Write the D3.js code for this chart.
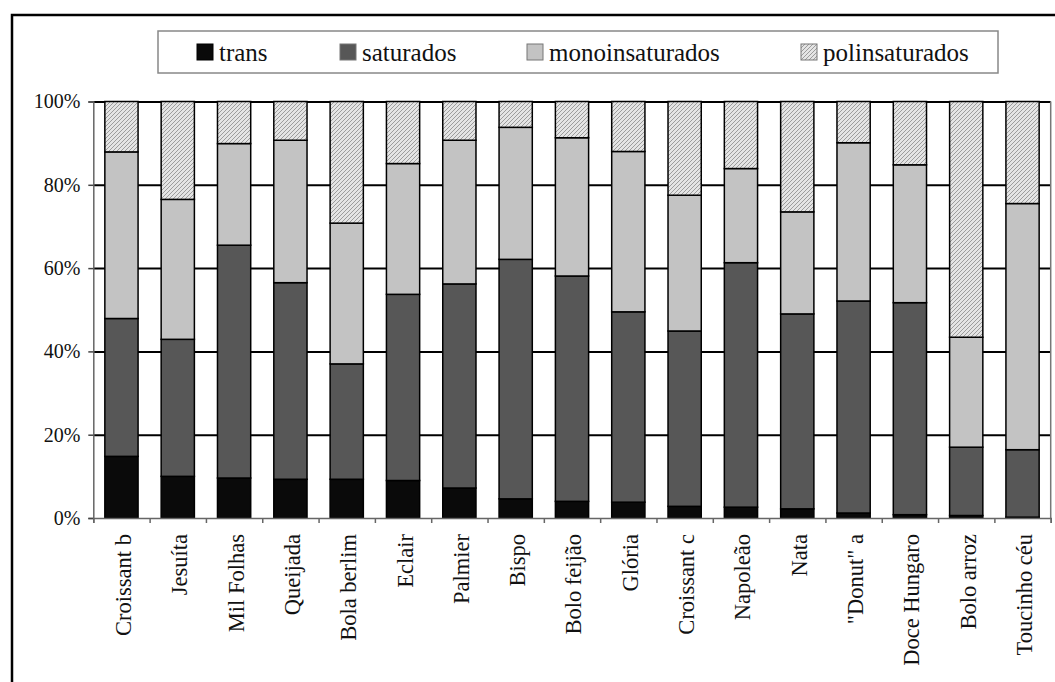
<!DOCTYPE html>
<html lang="pt">
    <head>
        <meta charset="utf-8">
        <title>Ácidos gordos - bolos</title>
        <script type="text/javascript" src="https://d3js.org/d3.v7.min.js"></script>
        <style type="text/css">
            body { margin: 0; background: #fff; }
            text { font-family: "Liberation Serif", "Times New Roman", serif; fill: #111; }
        </style>
    </head>
    <body>
        <script type="text/javascript">

            // Categorias (eixo X)
            var categorias = ["Croissant b", "Jesuíta", "Mil Folhas", "Queijada", "Bola berlim",
                "Eclair", "Palmier", "Bispo", "Bolo feijão", "Glória", "Croissant c",
                "Napoleão", "Nata", "\"Donut\" a", "Doce Hungaro", "Bolo arroz", "Toucinho céu"];

            // Series (% do total)
            var trans          = [14.8, 10.0, 9.6, 9.3, 9.3, 9.0, 7.2, 4.6, 4.0, 3.8, 2.8, 2.6, 2.2, 1.2, 0.8, 0.6, 0.2];
            var saturados      = [33.1, 32.9, 55.9, 47.2, 27.7, 44.7, 49.0, 57.5, 54.1, 45.7, 42.1, 58.7, 46.8, 50.9, 50.9, 16.4, 16.2];
            var monoinsaturados = [40.0, 33.6, 24.4, 34.2, 33.8, 31.4, 34.5, 31.7, 33.2, 38.5, 32.6, 22.6, 24.5, 38.0, 33.1, 26.4, 59.1];
            var polinsaturados = [12.1, 23.5, 10.1, 9.3, 29.2, 14.9, 9.3, 6.2, 8.7, 12.0, 22.5, 16.1, 26.5, 9.9, 15.2, 56.6, 24.5];

            var series = ["trans", "saturados", "monoinsaturados", "polinsaturados"];
            var yTicks = [0, 20, 40, 60, 80, 100];

            // Tabela para o d3.stack
            var dados = categorias.map(function(c, i) {
                return {
                    cat: c,
                    trans: trans[i],
                    saturados: saturados[i],
                    monoinsaturados: monoinsaturados[i],
                    polinsaturados: polinsaturados[i]
                };
            });

            var w = 1055;
            var h = 682;
            // Limites da area do grafico (nao usar "top": e global do browser)
            var plotL = 93.3, plotR = 1050.7, plotT = 101.5, plotB = 518;

            var svg = d3.select("body")
                        .append("svg")
                        .attr("width", w)
                        .attr("height", h);

            // Trama das barras polinsaturados
            var defs = svg.append("defs");
            var pat = defs.append("pattern")
                .attr("id", "hatch")
                .attr("patternUnits", "userSpaceOnUse")
                .attr("width", 4)
                .attr("height", 4);
            pat.append("rect").attr("width", 4).attr("height", 4).attr("fill", "#e4e4e4");
            pat.append("path")
                .attr("d", "M-1,1 l2,-2 M0,4 l4,-4 M3,5 l2,-2")
                .attr("stroke", "#9c9c9c")
                .attr("stroke-width", 1);

            var cores = {
                trans: "#0a0a0a",
                saturados: "#575757",
                monoinsaturados: "#c3c3c3",
                polinsaturados: "url(#hatch)"
            };

            // Moldura exterior
            svg.append("rect")
                .attr("x", 12).attr("y", 15)
                .attr("width", 1060).attr("height", 700)
                .attr("fill", "none")
                .attr("stroke", "#000")
                .attr("stroke-width", 2.5);

            // Escalas
            var xScale = d3.scaleBand()
                .domain(categorias)
                .range([plotL, plotR])
                .paddingInner(0.41)
                .paddingOuter(0.205);

            var xEdge = d3.scaleLinear()
                .domain([0, categorias.length])
                .range([plotL, plotR]);

            var yScale = d3.scaleLinear()
                .domain([0, 100])
                .range([plotB, plotT]);

            // Linhas de grelha
            svg.append("g")
                .attr("class", "grid")
                .attr("transform", "translate(" + plotL + ",0)")
                .call(d3.axisLeft(yScale).tickValues(yTicks.slice(1)).tickSize(-(plotR - plotL)).tickFormat(""))
                .call(function(g) {
                    g.select(".domain").remove();
                    g.selectAll("line").attr("stroke", "#000").attr("stroke-width", 2);
                });

            // Borda direita da area
            svg.append("line")
                .attr("x1", plotR).attr("x2", plotR)
                .attr("y1", plotT).attr("y2", plotB)
                .attr("stroke", "#777")
                .attr("stroke-width", 1.5);

            // Barras empilhadas
            var stack = d3.stack().keys(series);
            var camadas = stack(dados);

            svg.selectAll("g.layer")
                .data(camadas)
                .enter()
                .append("g")
                .attr("class", "layer")
                .attr("fill", function(d) { return cores[d.key]; })
                .selectAll("rect")
                .data(function(d) { return d; })
                .enter()
                .append("rect")
                .attr("x", function(d) { return xScale(d.data.cat); })
                .attr("y", function(d) { return yScale(d[1]); })
                .attr("width", xScale.bandwidth())
                .attr("height", function(d) { return yScale(d[0]) - yScale(d[1]); })
                .attr("stroke", "#000")
                .attr("stroke-width", 1.5);

            // Eixo Y
            svg.append("g")
                .attr("class", "y axis")
                .attr("transform", "translate(" + plotL + ",0)")
                .call(d3.axisLeft(yScale).tickValues(yTicks).tickSize(5).tickPadding(8)
                    .tickFormat(function(d) { return d + "%"; }))
                .call(function(g) {
                    g.select(".domain").attr("stroke", "#666").attr("stroke-width", 1.5);
                    g.selectAll("line").attr("stroke", "#444").attr("stroke-width", 1.5);
                    g.selectAll("text").attr("font-size", "20px").attr("fill", "#111")
                        .attr("font-family", "Liberation Serif, Times New Roman, serif");
                });

            // Eixo X: marcas nos limites das categorias
            svg.append("g")
                .attr("class", "x axis")
                .attr("transform", "translate(0," + plotB + ")")
                .call(d3.axisBottom(xEdge).tickValues(d3.range(categorias.length + 1)).tickSize(5).tickFormat(""))
                .call(function(g) {
                    g.select(".domain").attr("stroke", "#666").attr("stroke-width", 1.5);
                    g.selectAll("line").attr("stroke", "#666").attr("stroke-width", 1.5);
                });

            // Etiquetas X rodadas
            svg.append("g")
                .attr("class", "x labels")
                .attr("transform", "translate(0," + plotB + ")")
                .call(d3.axisBottom(xScale).tickSize(0).tickPadding(0))
                .call(function(g) {
                    g.select(".domain").remove();
                    g.selectAll("text")
                        .attr("transform", "rotate(-90)")
                        .attr("text-anchor", "end")
                        .attr("x", -16)
                        .attr("y", 0)
                        .attr("dy", "0.42em")
                        .attr("font-size", "22.5px")
                        .attr("fill", "#111")
                        .attr("font-family", "Liberation Serif, Times New Roman, serif");
                });

            // Legenda
            var leg = svg.append("g").attr("class", "legend");
            leg.append("rect")
                .attr("x", 158).attr("y", 31)
                .attr("width", 840).attr("height", 42)
                .attr("fill", "#fff")
                .attr("stroke", "#888")
                .attr("stroke-width", 1.5);

            var legX = [197, 340, 527, 801];
            var item = leg.selectAll("g.item")
                .data(series)
                .enter()
                .append("g")
                .attr("class", "item")
                .attr("transform", function(d, i) { return "translate(" + legX[i] + ",44)"; });

            item.append("rect")
                .attr("width", 16).attr("height", 16)
                .attr("fill", function(d) { return cores[d]; })
                .attr("stroke", function(d) { return d == "trans" ? "#000" : "#777"; })
                .attr("stroke-width", 1);

            item.append("text")
                .attr("x", 22)
                .attr("y", 17)
                .attr("font-size", "25px")
                .text(function(d) { return d; });
        </script>
    </body>
</html>
